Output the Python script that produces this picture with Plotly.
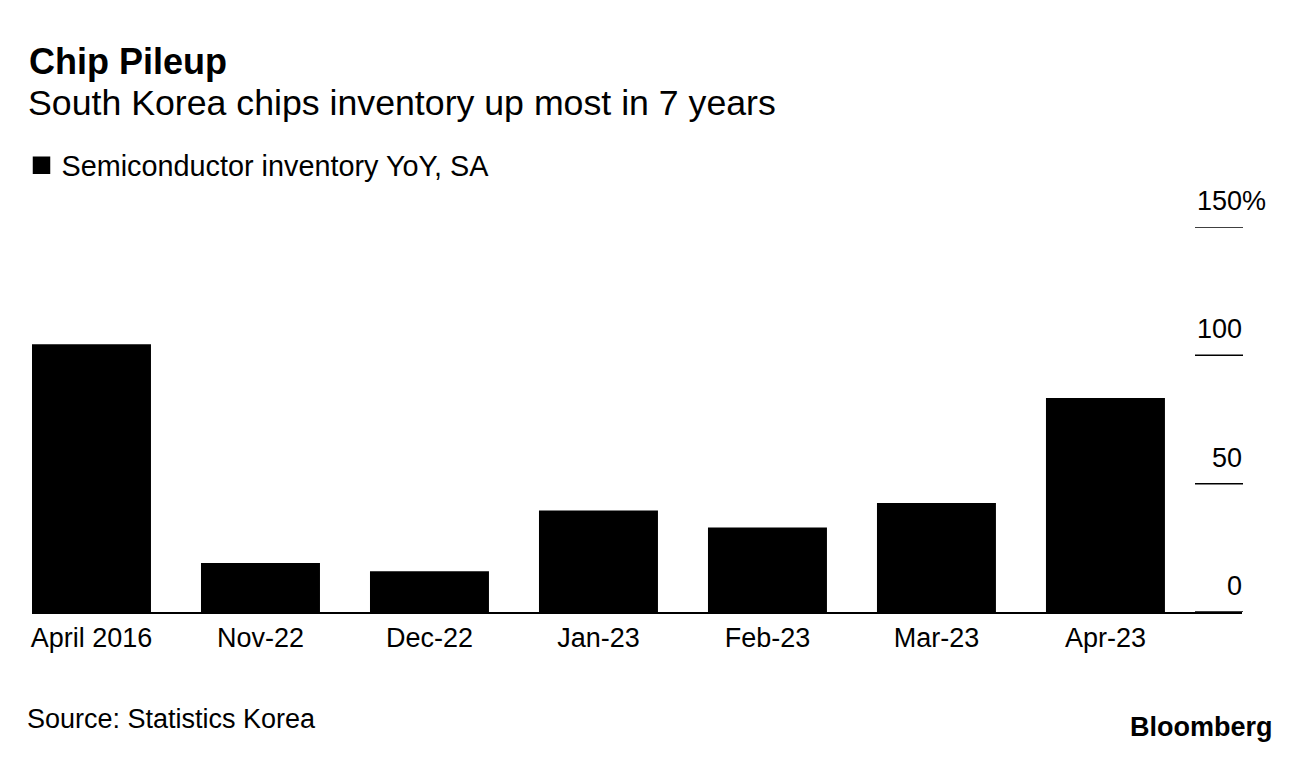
import plotly.graph_objects as go

categories = ["April 2016", "Nov-22", "Dec-22", "Jan-23", "Feb-23", "Mar-23", "Apr-23"]
values = [104.3, 19.1, 15.9, 39.5, 32.9, 42.5, 83.4]
y_ticks = [0, 50, 100, 150]
y_tick_labels = ["0", "50", "100", "150%"]

title = "Chip Pileup"
subtitle = "South Korea chips inventory up most in 7 years"
series_name = "Semiconductor inventory YoY, SA"
source = "Source: Statistics Korea"

# page offset of the figure (browser body margin)
OFF = 8
W, H = 1296 - OFF, 760 - OFF
# plot area in page pixels
L, R, T, B = 32, 1242, 227, 612
FONT = "Liberation Sans, Arial, sans-serif"


def px_x(p):
    return (p - L) / (R - L)


def px_y(p):
    return (B - p) / (B - T)


fig = go.Figure()
fig.add_trace(go.Bar(
    x=list(range(len(categories))), y=values, width=0.704,
    marker=dict(color="black", line=dict(width=0)),
    showlegend=False, hoverinfo="skip",
))
# legend entry
fig.add_trace(go.Scatter(
    x=[None], y=[None], mode="markers", name=series_name,
    marker=dict(symbol="square", size=16, color="black",
                line=dict(color="black", width=1.5)),
))

shapes = []
annotations = []
for v, lab in zip(y_ticks, y_tick_labels):
    shapes.append(dict(type="line", xref="paper", yref="y",
                       x0=px_x(1195), x1=px_x(1243), y0=v, y1=v,
                       line=dict(color="black", width=1.5)))
    annotations.append(dict(xref="paper", yref="y", x=px_x(1244), y=v,
                            text=lab, showarrow=False, xanchor="right",
                            yanchor="middle", yshift=26,
                            xshift=24 if lab.endswith("%") else 0,
                            font=dict(size=27, color="black", family=FONT)))

annotations += [
    dict(xref="paper", yref="paper", x=px_x(27), y=px_y(61), text="<b>" + title + "</b>",
         showarrow=False, xanchor="left", yanchor="middle",
         font=dict(size=36, color="black", family=FONT)),
    dict(xref="paper", yref="paper", x=px_x(26), y=px_y(103), text=subtitle,
         showarrow=False, xanchor="left", yanchor="middle",
         font=dict(size=35.7, color="black", family=FONT)),
    dict(xref="paper", yref="paper", x=px_x(25), y=px_y(719), text=source,
         showarrow=False, xanchor="left", yanchor="middle",
         font=dict(size=27, color="black", family=FONT)),
    dict(xref="paper", yref="paper", x=px_x(1275), y=px_y(727), text="<b>Bloomberg</b>",
         showarrow=False, xanchor="right", yanchor="middle",
         font=dict(size=27, color="black", family=FONT)),
]

fig.update_layout(
    width=W, height=H,
    margin=dict(l=L - OFF, r=W + OFF - R, t=T - OFF, b=H + OFF - B, pad=0),
    paper_bgcolor="white", plot_bgcolor="white",
    font=dict(family=FONT, color="black", size=27),
    showlegend=True,
    legend=dict(x=px_x(21.5), y=px_y(140), xanchor="left", yanchor="top",
                bgcolor="rgba(0,0,0,0)", font=dict(size=28.8, color="black"),
                itemclick=False),
    xaxis=dict(range=[-0.352, 6.808], tickmode="array",
               tickvals=list(range(len(categories))), ticktext=categories,
               showgrid=False, zeroline=False, showline=True, linecolor="black",
               linewidth=1.5, ticks="outside", ticklen=1,
               tickcolor="rgba(0,0,0,0)", tickfont=dict(size=27)),
    yaxis=dict(range=[0, 150], showgrid=False, zeroline=False,
               showticklabels=False, showline=False, ticks=""),
    shapes=shapes, annotations=annotations,
)

fig.write_html("out.html")
